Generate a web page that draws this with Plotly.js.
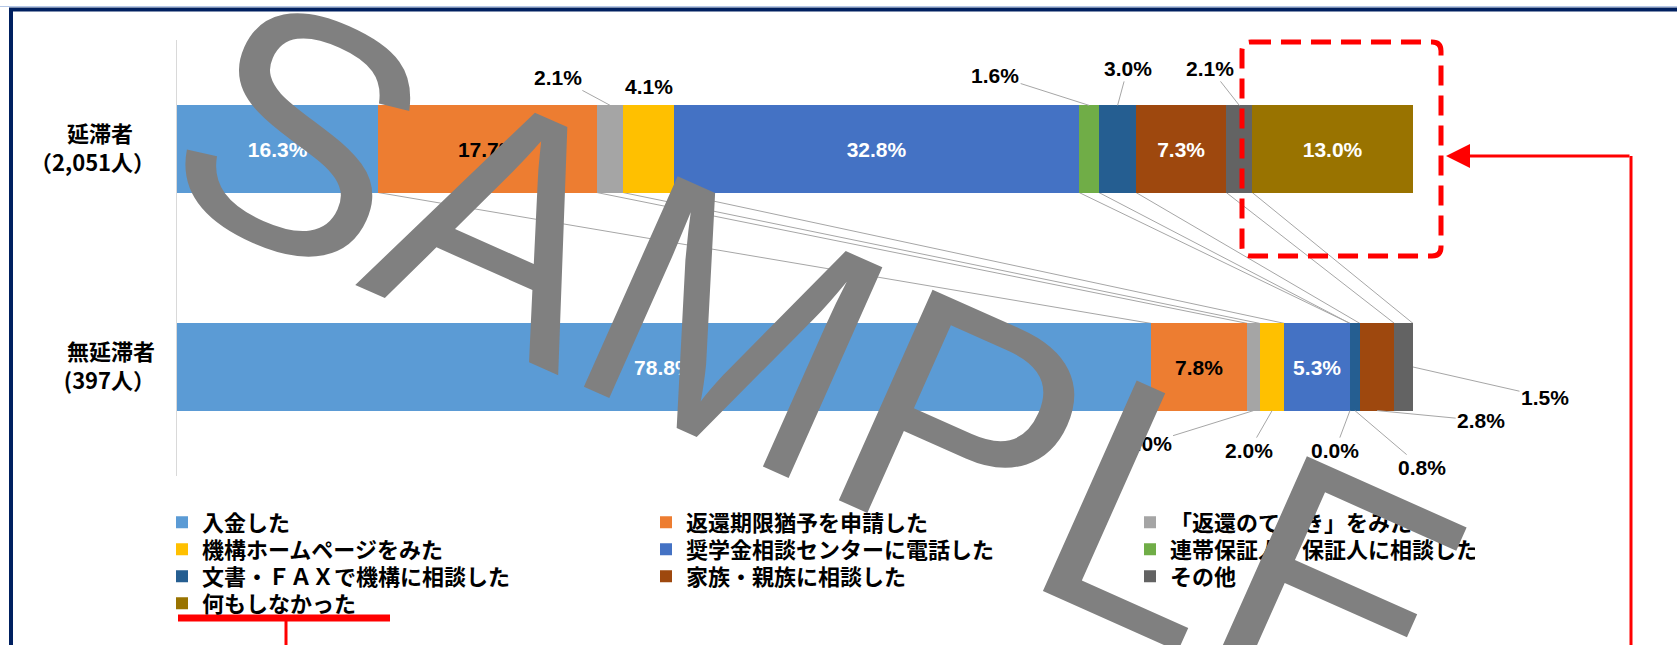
<!DOCTYPE html>
<html>
<head>
<meta charset="utf-8">
<script src="https://cdn.plot.ly/plotly-3.0.1.min.js"></script>
<style>
html,body{margin:0;padding:0;background:#ffffff;}
#chart{width:1677px;height:645px;}
</style>
</head>
<body>
<div id="chart"></div>
<script>
// ---------------- data ----------------
const categories = ['延滞者', '無延滞者'];
const categoryLabels = ['延滞者\u3000<br>（2,051人）', '無延滞者<br>(397人）'];
const seriesNames = [
  '入金した',
  '返還期限猶予を申請した',
  '「返還のてびき」をみた',
  '機構ホームページをみた',
  '奨学金相談センターに電話した',
  '連帯保証人・保証人に相談した',
  '文書・ＦＡＸで機構に相談した',
  '家族・親族に相談した',
  'その他',
  '何もしなかった'
];
const delinquentValues    = [16.3, 17.7, 2.1, 4.1, 32.8, 1.6, 3.0, 7.3, 2.1, 13.0];
const nonDelinquentValues = [78.8, 7.8, 1.0, 2.0, 5.3, 0.0, 0.8, 2.8, 1.5, 0.0];

// ---------------- styling ----------------
const colors = ['#5B9BD5','#ED7D31','#A5A5A5','#FFC000','#4472C4','#70AD47','#255E91','#9E480E','#636363','#997300'];
const insideTextColors = ['#ffffff','#000000','#000000','#000000','#ffffff','#000000','#ffffff','#ffffff','#ffffff','#ffffff'];
const valuesByCat = [delinquentValues, nonDelinquentValues];

// labels drawn outside the bars with leader lines: [series, category] -> offsets (px)
const outsideLabels = [
  {s:2, c:0, edge:'top',    ax:-52, ay:-28, line:true},
  {s:3, c:0, edge:'top',    ax:0,   ay:-19, line:false},
  {s:5, c:0, edge:'top',    ax:-94, ay:-30, line:true},
  {s:6, c:0, edge:'top',    ax:10,  ay:-37, line:true},
  {s:8, c:0, edge:'top',    ax:-29, ay:-37, line:true},
  {s:2, c:1, edge:'bottom', ax:-106,ay:33,  line:true},
  {s:3, c:1, edge:'bottom', ax:-23, ay:40,  line:true},
  {s:5, c:1, edge:'bottom', ax:-15, ay:40,  line:true},
  {s:6, c:1, edge:'bottom', ax:67,  ay:57,  line:true},
  {s:7, c:1, edge:'bottom', ax:104, ay:10,  line:true},
  {s:8, c:1, edge:'end',    ax:132, ay:30,  line:true}
];
const isOutside = (s,c) => outsideLabels.some(o => o.s===s && o.c===c);
const fmt = v => v.toFixed(1) + '%';

const W = 1677, H = 645;
const M = {l:177, r:264, t:40, b:169};
const plotW = W - M.l - M.r, plotH = H - M.t - M.b;
const px = x => (x - M.l) / plotW;
const py = y => (H - M.b - y) / plotH;

const BARGAP = 0.6;
const half = (1 - BARGAP) / 2;

const labelFont = {family:'Liberation Sans, Arial, sans-serif', size:21, color:'#000000', weight:'bold'};
const jpFont = {family:'"Noto Sans CJK JP", sans-serif', size:22, color:'#000000', weight:'bold'};

function cumStart(c, s){ let t=0; for(let k=0;k<s;k++) t+=valuesByCat[c][k]; return t; }

const legendIds = ['legend','legend2','legend3','legend4'];

const traces = seriesNames.map((name, s) => ({
  type:'bar',
  orientation:'h',
  name: name,
  y: categories,
  x: [delinquentValues[s], nonDelinquentValues[s]],
  marker:{color: colors[s], line:{width:0}},
  text: categories.map((_, c) => {
    const v = valuesByCat[c][s];
    return (v > 0 && !isOutside(s,c)) ? fmt(v) : '';
  }),
  textposition:'inside',
  insidetextanchor:'middle',
  constraintext:'none',
  textangle:0,
  textfont: Object.assign({}, labelFont, {color: insideTextColors[s]}),
  legend: legendIds[Math.floor(s/3)],
  legendwidth: (s % 3 === 2) ? 300 : 439,
  hoverinfo:'skip'
}));

const annotations = outsideLabels.map(o => {
  const v = valuesByCat[o.c][o.s];
  const st = cumStart(o.c, o.s);
  let x = st + v/2, y = o.c;
  if (o.edge === 'top') y = o.c - half;
  else if (o.edge === 'bottom') y = o.c + half;
  else if (o.edge === 'end') x = st + v;
  return {
    x: x, y: y, xref:'x', yref:'y',
    text: fmt(v),
    showarrow:true, arrowhead:0, arrowwidth:1, standoff:0,
    arrowcolor: o.line ? '#A6A6A6' : 'rgba(0,0,0,0)',
    ax:o.ax, ay:o.ay,
    font: labelFont
  };
});

// watermark
annotations.push({
  xref:'paper', yref:'paper', x: px(818), y: py(364),
  xanchor:'center', yanchor:'middle',
  text:'SAMPLE', showarrow:false, textangle:24,
  font:{family:'Liberation Sans, Arial, sans-serif', size:335, color:'#808080'}
});
// red arrow pointing at highlight box
annotations.push({
  xref:'paper', yref:'paper', x: px(1446), y: py(156),
  ax: 185, ay: 0, text:'', showarrow:true,
  arrowhead:2, arrowsize:1.6, arrowwidth:3, arrowcolor:'#FF0000', standoff:0
});

// series lines between the two bars
const shapes = [];
for (let s = 0; s < seriesNames.length - 1; s++) {
  shapes.push({
    type:'line', xref:'x', yref:'y', layer:'below',
    x0: cumStart(0, s+1), y0: 0 + half,
    x1: cumStart(1, s+1), y1: 1 - half,
    line:{color:'#A6A6A6', width:1}
  });
}

// rounded dashed highlight box
(function(){
  const x0=1242, x1=1441, y0=42, y1=256, r=9;
  const P = (x,y) => px(x) + ',' + py(y);
  const path = 'M' + P(x0+r,y0) + ' L' + P(x1-r,y0) + ' Q' + P(x1,y0) + ' ' + P(x1,y0+r) +
    ' L' + P(x1,y1-r) + ' Q' + P(x1,y1) + ' ' + P(x1-r,y1) +
    ' L' + P(x0+r,y1) + ' Q' + P(x0,y1) + ' ' + P(x0,y1-r) +
    ' L' + P(x0,y0+r) + ' Q' + P(x0,y0) + ' ' + P(x0+r,y0) + ' Z';
  shapes.push({type:'path', xref:'paper', yref:'paper', path:path,
    line:{color:'#FF0000', width:5, dash:'20px,10px'}, fillcolor:'rgba(0,0,0,0)'});
})();
shapes.push({type:'line', xref:'paper', yref:'paper', x0:px(1631), x1:px(1631), y0:py(156), y1:py(700),
  line:{color:'#FF0000', width:3}});
shapes.push({type:'line', xref:'paper', yref:'paper', x0:px(178), x1:px(390), y0:py(618), y1:py(618),
  line:{color:'#FF0000', width:7}});
shapes.push({type:'line', xref:'paper', yref:'paper', x0:px(286), x1:px(286), y0:py(618), y1:py(700),
  line:{color:'#FF0000', width:3}});
shapes.push({type:'line', xref:'paper', yref:'paper', x0:px(0), x1:px(1700), y0:py(6.5), y1:py(6.5),
  line:{color:'#B4C7E7', width:1}});
shapes.push({type:'rect', xref:'paper', yref:'paper', x0:px(11), x1:px(1720), y0:py(9.5), y1:py(720),
  line:{color:'#002060', width:4}, fillcolor:'rgba(0,0,0,0)'});

const legendRowsY = [523, 550, 577, 604];
const legendBase = {
  orientation:'h', xanchor:'left', yanchor:'top',
  x: px(162), font: jpFont, bgcolor:'rgba(0,0,0,0)',
  traceorder:'normal', itemclick:false, itemdoubleclick:false
};
const layout = {
  width: W, height: H,
  margin: {l:M.l, r:M.r, t:M.t, b:M.b, autoexpand:false},
  paper_bgcolor:'#ffffff', plot_bgcolor:'#ffffff',
  barmode:'stack', bargap: BARGAP,
  showlegend:true,
  xaxis:{range:[0,100], visible:false, fixedrange:true},
  yaxis:{
    type:'category', autorange:'reversed',
    tickvals: categories, ticktext: categoryLabels,
    showline:true, linecolor:'#D9D9D9', linewidth:1.5,
    ticks:'', showgrid:false, zeroline:false,
    tickfont: jpFont, ticklabelstandoff: 16, fixedrange:true
  },
  annotations: annotations,
  shapes: shapes
};
legendIds.forEach((id, k) => {
  layout[id] = Object.assign({}, legendBase, {y: py(legendRowsY[k] - 21.5)});
});

Plotly.newPlot('chart', traces, layout, {displayModeBar:false, staticPlot:true});
</script>
</body>
</html>
